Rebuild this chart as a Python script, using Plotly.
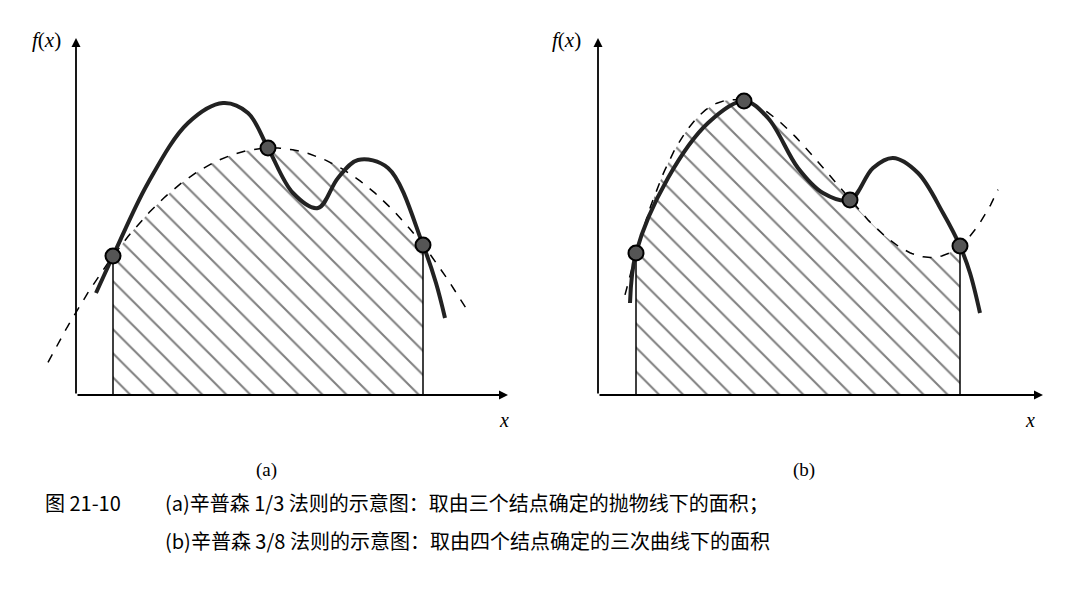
import plotly.graph_objects as go
import numpy as np

# panel (a): pixel positions (y grows downward)
a_nodes_x = [105, 260, 415]
a_nodes_y = [248, 140, 237]
a_curve_x = [88, 105, 140, 180, 215, 240, 260, 285, 310, 330, 350, 380, 415, 428, 437]
a_curve_y = [285, 248, 175, 115, 95, 105, 140, 185, 200, 170, 152, 160, 237, 275, 310]

# panel (b)
b_nodes_x = [628, 736, 842, 952]
b_nodes_y = [245, 93, 192, 238]
b_curve_x = [622, 628, 660, 700, 736, 760, 790, 815, 842, 865, 885, 910, 935, 952, 962, 972]
b_curve_y = [295, 245, 170, 115, 93, 110, 160, 185, 192, 160, 150, 165, 205, 238, 265, 305]

base_y = 387

fig = go.Figure()

def add_panel(nx, ny, cx, cy, deg, xlo, xhi):
    coef = np.polyfit(nx, ny, deg)
    xd = np.linspace(xlo, xhi, 200)
    fx = np.linspace(nx[0], nx[-1], 200)
    fy = np.polyval(coef, fx)
    fig.add_trace(go.Scatter(
        x=list(fx) + [nx[-1], nx[0]], y=list(fy) + [base_y, base_y],
        fill='toself', mode='lines', line=dict(width=0),
        fillcolor='rgba(0,0,0,0)',
        fillpattern=dict(shape='\\', size=17, solidity=0.12, fgcolor='black', bgcolor='white')))
    # vertical edges of the shaded area
    for xe in (nx[0], nx[-1]):
        fig.add_trace(go.Scatter(x=[xe, xe], y=[np.polyval(coef, xe), base_y], mode='lines',
                                 line=dict(color='black', width=1.5)))
    fig.add_trace(go.Scatter(x=xd, y=np.polyval(coef, xd), mode='lines',
                             line=dict(color='black', width=1.5, dash='dash')))
    fig.add_trace(go.Scatter(x=cx, y=cy, mode='lines', line=dict(color='#222', width=4, shape='spline')))
    fig.add_trace(go.Scatter(x=nx, y=ny, mode='markers',
                             marker=dict(size=15, color='#555', line=dict(color='black', width=2))))

add_panel(a_nodes_x, a_nodes_y, a_curve_x, a_curve_y, 2, 40, 460)
add_panel(b_nodes_x, b_nodes_y, b_curve_x, b_curve_y, 3, 617, 990)

# coordinate axes
for ox, xend in [(68, 500), (590, 1035)]:
    fig.add_annotation(x=xend, y=base_y, ax=ox, ay=base_y, xref='x', yref='y', axref='x', ayref='y',
                       showarrow=True, arrowhead=2, arrowwidth=1.8, arrowsize=1, arrowcolor='black', text='')
    fig.add_annotation(x=ox, y=30, ax=ox, ay=base_y, xref='x', yref='y', axref='x', ayref='y',
                       showarrow=True, arrowhead=2, arrowwidth=1.8, arrowsize=1, arrowcolor='black', text='')

serif = 'Liberation Serif'
texts = [(38, 32, '<i>f</i>(<i>x</i>)', 21), (558, 32, '<i>f</i>(<i>x</i>)', 21),
         (496, 412, '<i>x</i>', 20), (1022, 412, '<i>x</i>', 20),
         (258, 462, '(a)', 19), (796, 462, '(b)', 19)]
for x, y, t, s in texts:
    fig.add_annotation(x=x, y=y, text=t, showarrow=False, font=dict(family=serif, size=s, color='black'))

cjk = 'Noto Sans CJK SC'
fig.add_annotation(x=35, y=494, text='图 21-10', showarrow=False, xanchor='left',
                   font=dict(family=cjk, size=20, color='black'))
fig.add_annotation(x=155, y=494, text='(a)辛普森 1/3 法则的示意图：取由三个结点确定的抛物线下的面积；',
                   showarrow=False, xanchor='left', font=dict(family=cjk, size=20, color='black'))
fig.add_annotation(x=155, y=532, text='(b)辛普森 3/8 法则的示意图：取由四个结点确定的三次曲线下的面积',
                   showarrow=False, xanchor='left', font=dict(family=cjk, size=20, color='black'))

fig.update_xaxes(range=[0, 1066], visible=False)
fig.update_yaxes(range=[605, 0], visible=False)
fig.update_layout(width=1066, height=605, margin=dict(l=0, r=0, t=0, b=0),
                  plot_bgcolor='white', paper_bgcolor='white', showlegend=False)
fig.write_html("out.html")
